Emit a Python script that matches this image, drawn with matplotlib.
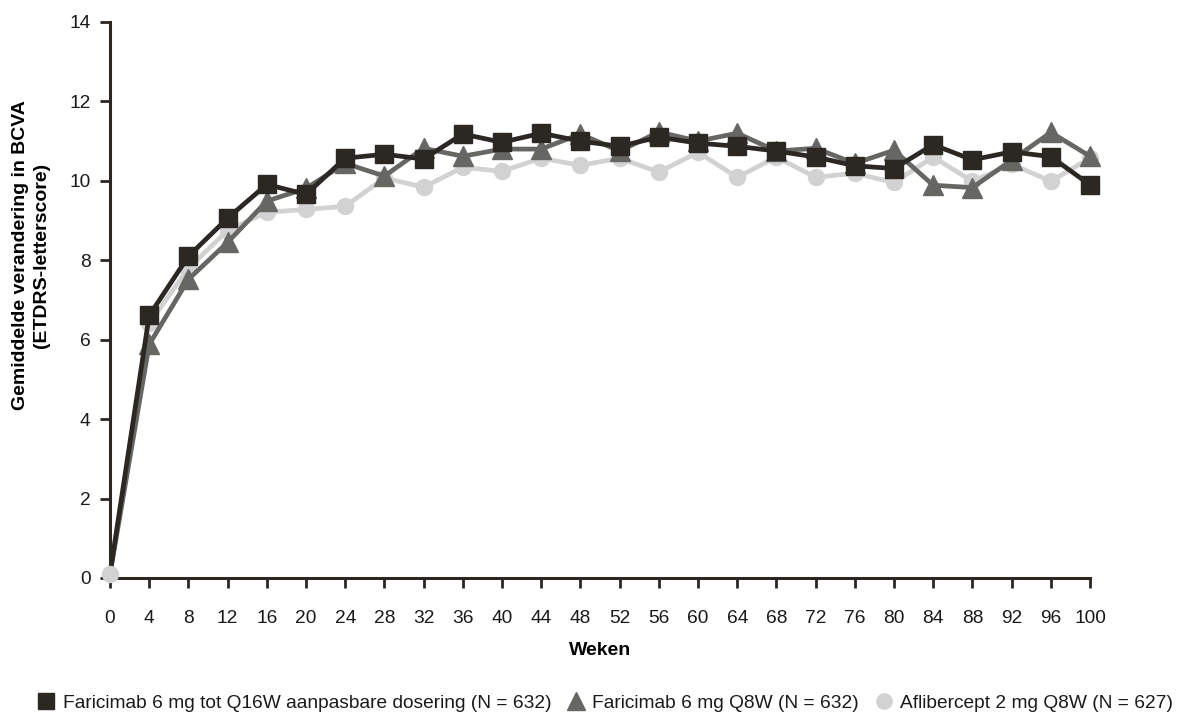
import matplotlib
matplotlib.use("Agg")
import matplotlib.pyplot as plt
from matplotlib.lines import Line2D

weeks = [0, 4, 8, 12, 16, 20, 24, 28, 32, 36, 40, 44, 48, 52, 56, 60, 64, 68, 72, 76, 80, 84, 88, 92, 96, 100]
faricimab_t_and_e = [0.1, 6.61, 8.1, 9.06, 9.91, 9.66, 10.57, 10.67, 10.55, 11.18, 10.97, 11.2, 11.0, 10.87,
                     11.1, 10.95, 10.87, 10.75, 10.6, 10.38, 10.31, 10.91, 10.53, 10.73, 10.61, 9.9]
faricimab_q8w = [0.1, 5.88, 7.52, 8.45, 9.49, 9.81, 10.44, 10.12, 10.82, 10.62, 10.8, 10.8, 11.18, 10.75,
                 11.23, 11.0, 11.2, 10.75, 10.82, 10.44, 10.77, 9.89, 9.83, 10.52, 11.22, 10.62]
aflibercept_q8w = [0.1, 6.41, 7.8, 8.75, 9.21, 9.28, 9.36, 10.07, 9.84, 10.34, 10.24, 10.57, 10.39, 10.57,
                   10.22, 10.72, 10.09, 10.6, 10.09, 10.19, 9.96, 10.6, 9.99, 10.42, 9.99, 10.57]

labels = ["Faricimab 6 mg tot Q16W aanpasbare dosering (N = 632)",
          "Faricimab 6 mg Q8W (N = 632)",
          "Aflibercept 2 mg Q8W (N = 627)"]

plt.rcParams['font.family'] = ['Liberation Sans', 'DejaVu Sans']

fig = plt.figure(figsize=(11.88, 7.16), dpi=100)
ax = fig.add_axes([110/1188, (716-578)/716, 980/1188, 556/716])

c_sq = '#2b2824'
c_tr = '#666663'
c_ci = '#d2d2d2'
rest = list(range(1, len(weeks)))

ax.plot(weeks, faricimab_q8w, color=c_tr, lw=3.4, marker='^', ms=14, markevery=rest, zorder=3, clip_on=False)
ax.plot(weeks, faricimab_t_and_e, color=c_sq, lw=3.4, marker='s', ms=13, markevery=rest, zorder=4, clip_on=False)
ax.plot(weeks, aflibercept_q8w, color=c_ci, lw=3.4, zorder=2, clip_on=False)
ax.plot(weeks[:1], aflibercept_q8w[:1], color=c_ci, lw=0, marker='o', ms=11.5, zorder=5, clip_on=False)
ax.plot(weeks[1:], aflibercept_q8w[1:], color=c_ci, lw=0, marker='o', ms=11.5, zorder=2.5, clip_on=False)

ax.set_xlim(0, 100)
ax.set_ylim(0, 14)
ax.set_xticks(weeks)
ax.set_yticks(range(0, 15, 2))
ax.tick_params(axis='both', labelsize=13.8, colors=c_sq, length=7, width=2, direction='out')
ax.tick_params(axis='x', pad=16)
ax.tick_params(axis='y', pad=7)
ax.tick_params(axis='both', labelcolor='#1a1a1a')
for s in ['top', 'right']:
    ax.spines[s].set_visible(False)
for s in ['left', 'bottom']:
    ax.spines[s].set_color(c_sq)
    ax.spines[s].set_linewidth(2.2)

ax.set_xlabel('Weken', fontsize=14, fontweight='bold', labelpad=11)
ax.set_ylabel('Gemiddelde verandering in BCVA\n(ETDRS-letterscore)', fontsize=14,
              fontweight='bold', labelpad=12, linespacing=1.3)
ax.yaxis.set_label_coords(-0.061, 0.58)

handles = [Line2D([], [], color=c_sq, marker='s', ms=12, lw=0),
           Line2D([], [], color=c_tr, marker='^', ms=13, lw=0),
           Line2D([], [], color=c_ci, marker='o', ms=11, lw=0)]
fig.legend(handles, labels, loc='center', bbox_to_anchor=(605/1188, 1 - 703/716), ncol=3, frameon=False,
           fontsize=13.8, handletextpad=0.35, columnspacing=0.8, handlelength=1.0, labelcolor='#1a1a1a')

fig.savefig('out.png', dpi=100)
